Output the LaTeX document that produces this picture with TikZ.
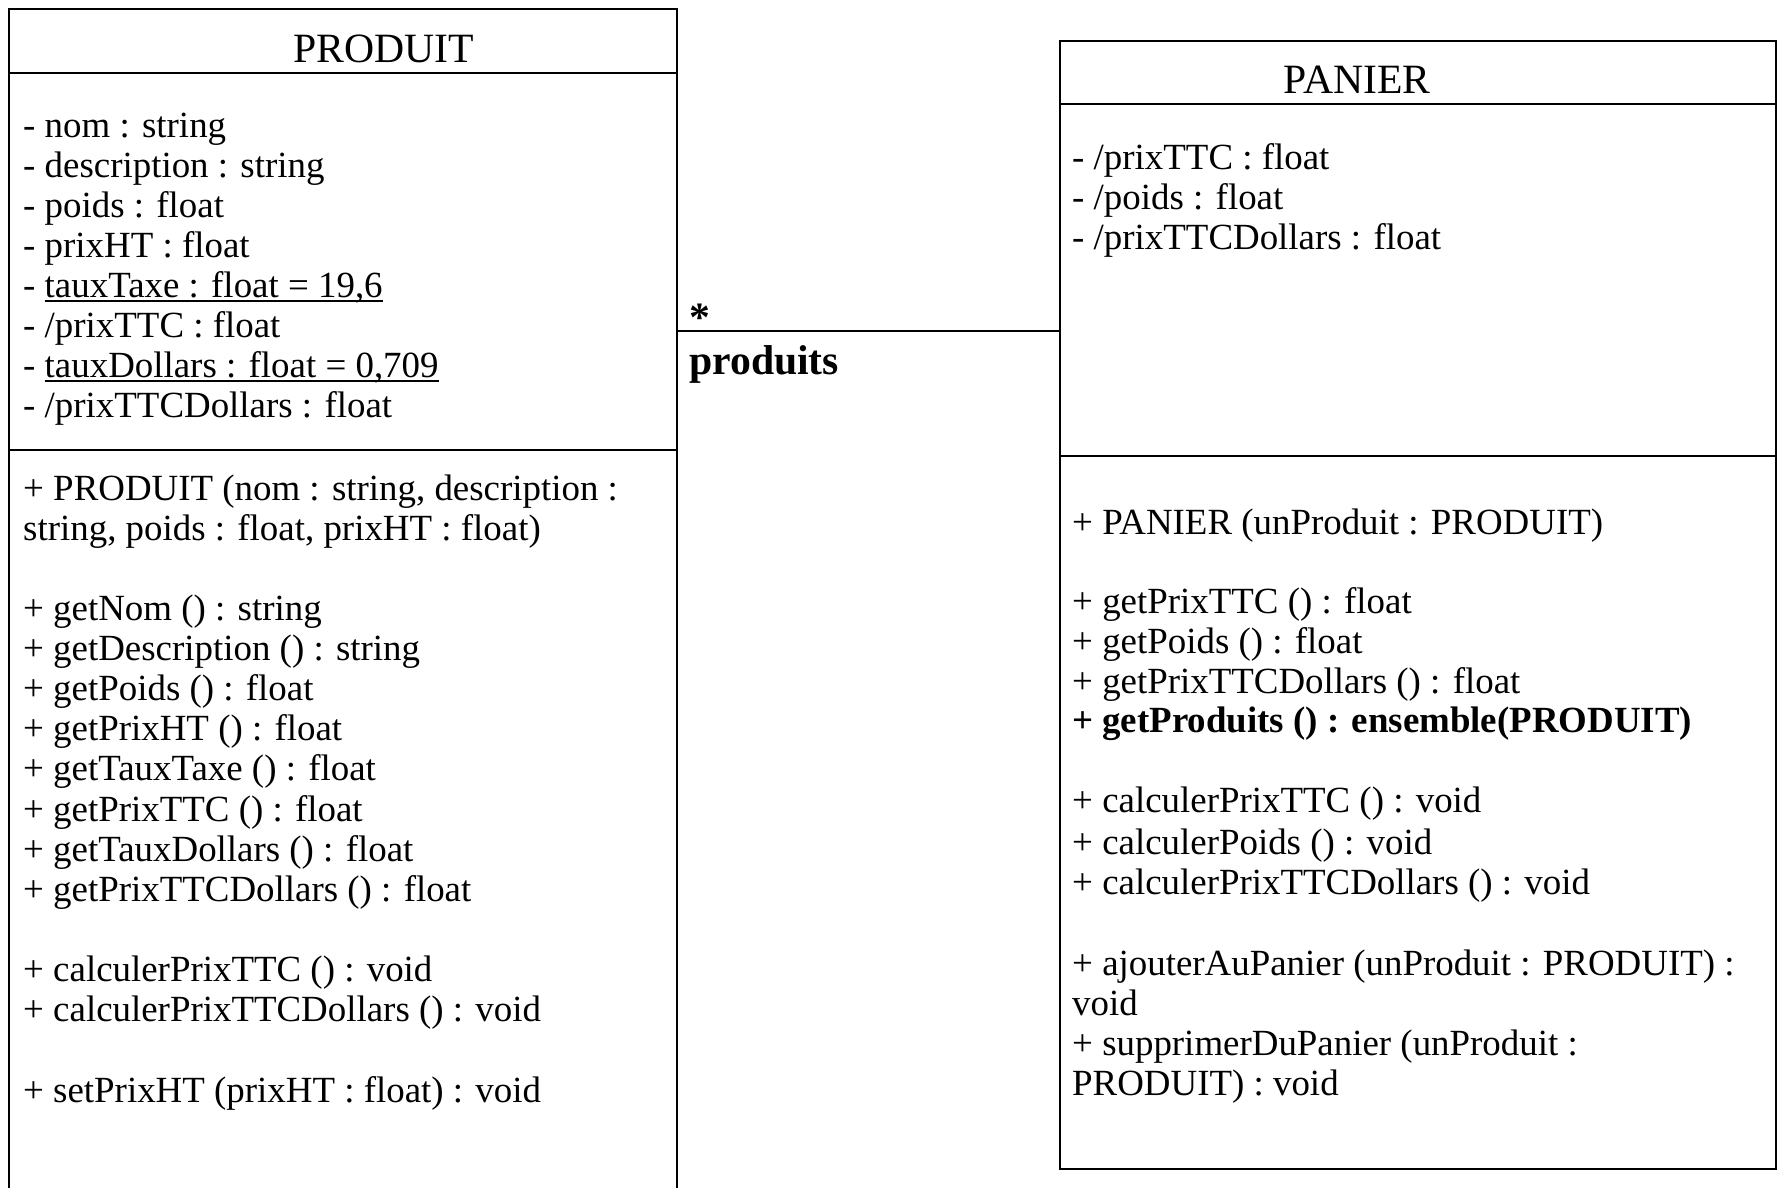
\documentclass[tikz,border=0pt]{standalone}
\usepackage{fontspec}
\setmainfont{Liberation Serif}
\newcommand\ulx[1]{\setbox0\hbox{#1}\rlap{\rule[-4.5pt]{\wd0}{1.8pt}}\box0}
\begin{document}
\begin{tikzpicture}[x=1pt,y=-1pt,
  box/.style={draw, line width=2pt, inner sep=0pt, outer sep=0pt, anchor=north west},
  sep/.style={line width=2pt},
  txt/.style={anchor=base west, inner sep=0pt, font=\fontsize{36.9}{40}\selectfont},
  btxt/.style={anchor=base west, inner sep=0pt, font=\fontsize{36.9}{40}\selectfont\bfseries},
  title/.style={anchor=base, inner sep=0pt, font=\fontsize{41.7}{45}\selectfont},
  role/.style={anchor=base west, inner sep=0pt, font=\fontsize{41.7}{45}\selectfont\bfseries}]
\useasboundingbox (0,0) rectangle (1779,1187);
% boxes
\node[box, minimum width=668pt, minimum height=1200pt] (produit) at (9,9) {};
\node[box, minimum width=716pt, minimum height=1128pt] (panier) at (1060,41) {};
% compartment lines
\draw[sep] (produit.west |- 0,73) -- (produit.east |- 0,73);
\draw[sep] (produit.west |- 0,450) -- (produit.east |- 0,450);
\draw[sep] (panier.west |- 0,104) -- (panier.east |- 0,104);
\draw[sep] (panier.west |- 0,456) -- (panier.east |- 0,456);
% titles
\node[title] (tprod) at (383.5,62) {PRODUIT};
\node[title] (tpan) at (1357,93) {PANIER};
% PRODUIT attributes
\node[txt] (pa1) at (23,137.5) {- nom : string};
\node[txt] (pa2) at (23,177.5) {- description : string};
\node[txt] (pa3) at (23,217.5) {- poids : float};
\node[txt] (pa4) at (23,257.5) {- prixHT : float};
\node[txt] (pa5) at (23,297.5) {- \ulx{tauxTaxe : float = 19,6}};
\node[txt] (pa6) at (23,337.5) {- /prixTTC : float};
\node[txt] (pa7) at (23,377.5) {- \ulx{tauxDollars : float = 0,709}};
\node[txt] (pa8) at (23,417.5) {- /prixTTCDollars : float};
% PRODUIT operations
\node[txt] (po1) at (23,500.5) {+ PRODUIT (nom : string, description :};
\node[txt] (po2) at (23,540.5) {string, poids : float, prixHT : float)};
\node[txt] (po3) at (23,620.5) {+ getNom () : string};
\node[txt] (po4) at (23,660.5) {+ getDescription () : string};
\node[txt] (po5) at (23,700.5) {+ getPoids () : float};
\node[txt] (po6) at (23,740.5) {+ getPrixHT () : float};
\node[txt] (po7) at (23,780.5) {+ getTauxTaxe () : float};
\node[txt] (po8) at (23,821.5) {+ getPrixTTC () : float};
\node[txt] (po9) at (23,861.5) {+ getTauxDollars () : float};
\node[txt] (po10) at (23,901.5) {+ getPrixTTCDollars () : float};
\node[txt] (po11) at (23,981.5) {+ calculerPrixTTC () : void};
\node[txt] (po12) at (23,1021.5) {+ calculerPrixTTCDollars () : void};
\node[txt] (po13) at (23,1102) {+ setPrixHT (prixHT : float) : void};
% PANIER attributes
\node[txt] (na1) at (1072,169.5) {- /prixTTC : float};
\node[txt] (na2) at (1072,209.5) {- /poids : float};
\node[txt] (na3) at (1072,249.5) {- /prixTTCDollars : float};
% PANIER operations
\node[txt] (no1) at (1072,534.5) {+ PANIER (unProduit : PRODUIT)};
\node[txt] (no2) at (1072,613.5) {+ getPrixTTC () : float};
\node[txt] (no3) at (1072,653.5) {+ getPoids () : float};
\node[txt] (no4) at (1072,693.5) {+ getPrixTTCDollars () : float};
\node[btxt] (no5) at (1072,732.5) {+ getProduits () : ensemble(PRODUIT)};
\node[txt] (no6) at (1072,812.5) {+ calculerPrixTTC () : void};
\node[txt] (no7) at (1072,854.5) {+ calculerPoids () : void};
\node[txt] (no8) at (1072,894.5) {+ calculerPrixTTCDollars () : void};
\node[txt] (no9) at (1072,975.5) {+ ajouterAuPanier (unProduit : PRODUIT) :};
\node[txt] (no10) at (1072,1015.5) {void};
\node[txt] (no11) at (1072,1055.5) {+ supprimerDuPanier (unProduit :};
\node[txt] (no12) at (1072,1095.5) {PRODUIT) : void};
% association
\coordinate (pe) at (produit.east |- 0,331);
\draw[sep] (pe) -- (pe -| panier.west);
\node[role] (mult) at (689,331) {*};
\node[role] (rname) at (689,374) {produits};
\end{tikzpicture}
\end{document}
